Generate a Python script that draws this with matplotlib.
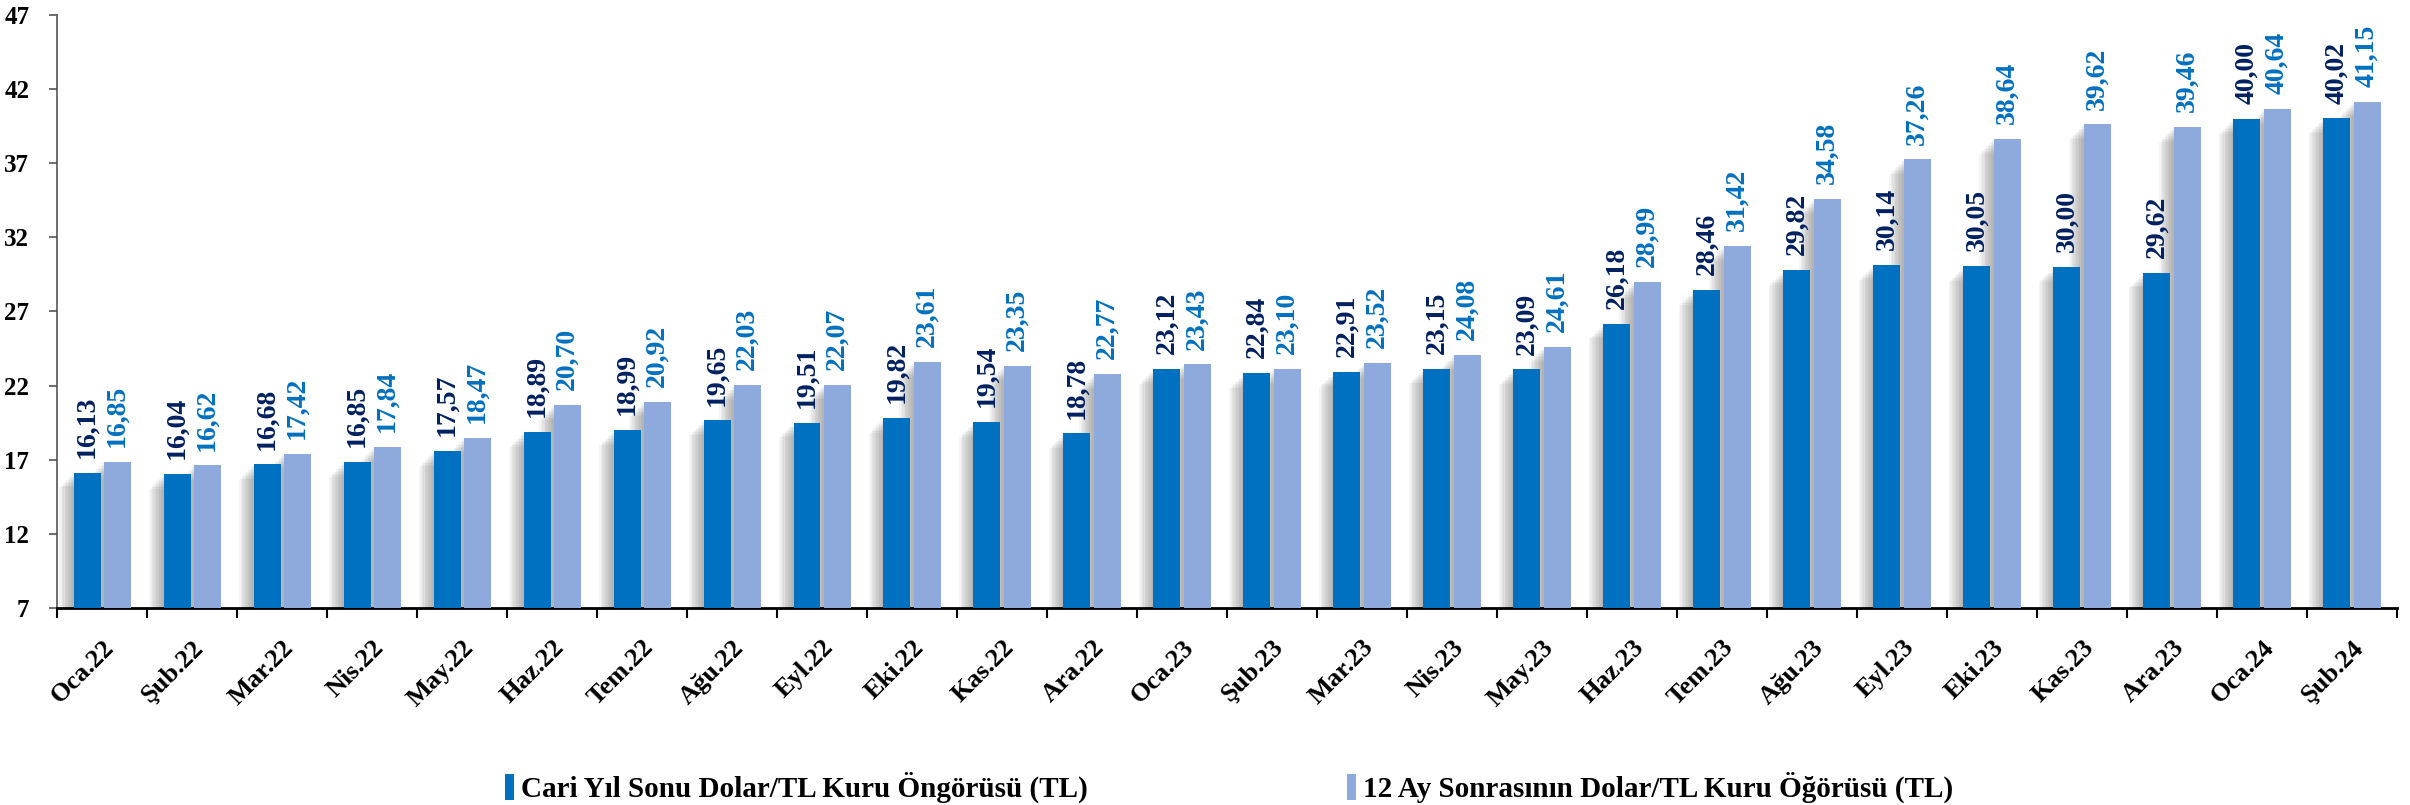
import numpy as np
import matplotlib
matplotlib.use('Agg')
import matplotlib.pyplot as plt

plt.rcParams['font.family'] = ['Liberation Serif', 'DejaVu Serif']
plt.rcParams['font.weight'] = 'bold'

months = ['Oca.22', 'Şub.22', 'Mar.22', 'Nis.22', 'May.22', 'Haz.22', 'Tem.22', 'Ağu.22',
          'Eyl.22', 'Eki.22', 'Kas.22', 'Ara.22', 'Oca.23', 'Şub.23', 'Mar.23', 'Nis.23',
          'May.23', 'Haz.23', 'Tem.23', 'Ağu.23', 'Eyl.23', 'Eki.23', 'Kas.23', 'Ara.23',
          'Oca.24', 'Şub.24']
cari = [16.13, 16.04, 16.68, 16.85, 17.57, 18.89, 18.99, 19.65, 19.51, 19.82, 19.54, 18.78,
        23.12, 22.84, 22.91, 23.15, 23.09, 26.18, 28.46, 29.82, 30.14, 30.05, 30.00, 29.62,
        40.00, 40.02]
ay12 = [16.85, 16.62, 17.42, 17.84, 18.47, 20.70, 20.92, 22.03, 22.07, 23.61, 23.35, 22.77,
        23.43, 23.10, 23.52, 24.08, 24.61, 28.99, 31.42, 34.58, 37.26, 38.64, 39.62, 39.46,
        40.64, 41.15]
series_names = ['Cari Yıl Sonu Dolar/TL Kuru Öngörüsü (TL)',
                '12 Ay Sonrasının Dolar/TL Kuru Öğörüsü (TL)']

c_dark = '#0070C0'
c_light = '#8EA9DB'
lbl_dark = '#002060'
lbl_light = '#0070C0'
ymin = 7

fig = plt.figure(figsize=(24.1, 8.05), dpi=100)
ax = fig.add_axes([0.0237, 0.2447, 0.9709, 0.7367])

x = np.arange(len(months))
w = 0.30
gap = 0.035
x1 = x - w / 2 - gap / 2
x2 = x + w / 2 + gap / 2

# soft shadow on the left side of each bar
for xs, vals in ((x1, cari), (x2, ay12)):
    h = np.array(vals) - ymin
    for k in range(1, 11):
        ax.bar(xs - k * 0.016, h - 0.1 * k, w, bottom=ymin, color='#707070',
               alpha=0.065, linewidth=0, zorder=1)

ax.bar(x1, np.array(cari) - ymin, w, bottom=ymin, color=c_dark, zorder=3,
       label=series_names[0])
ax.bar(x2, np.array(ay12) - ymin, w, bottom=ymin, color=c_light, zorder=3,
       label=series_names[1])

for xi, v in zip(x1, cari):
    ax.text(xi, v + 1.0, f'{v:.2f}'.replace('.', ','), rotation=90, ha='center',
            va='bottom', fontsize=20, color=lbl_dark, fontweight='bold')
for xi, v in zip(x2, ay12):
    ax.text(xi, v + 1.0, f'{v:.2f}'.replace('.', ','), rotation=90, ha='center',
            va='bottom', fontsize=20, color=lbl_light, fontweight='bold')

ax.set_xlim(-0.5, len(months) - 0.5)
ax.set_ylim(ymin, 47)
ax.set_yticks(np.arange(7, 48, 5))
ax.set_xticks(np.arange(len(months) + 1) - 0.5)
ax.set_xticklabels([])
ax.set_xticks(x, minor=True)
ax.set_xticklabels(months, minor=True, rotation=45, ha='right', va='top',
                   rotation_mode='anchor', fontsize=19, fontweight='bold')
ax.tick_params(axis='x', which='minor', length=0, pad=20)
ax.tick_params(axis='x', which='major', length=7, width=1.5, direction='out')
ax.tick_params(axis='y', length=6, width=1.2, color='#555555', labelsize=18, pad=14)
for t in ax.get_yticklabels():
    t.set_fontweight('bold')

ax.spines['top'].set_visible(False)
ax.spines['right'].set_visible(False)
ax.spines['left'].set_color('#555555')
ax.spines['left'].set_linewidth(1.2)
ax.spines['bottom'].set_linewidth(2)

fig.legend(loc='center', bbox_to_anchor=(0.510, 0.022), ncol=2, frameon=False,
           fontsize=21, handlelength=0.3, handleheight=1.0, handletextpad=0.25,
           columnspacing=8.9, borderpad=0)

fig.savefig('out.png', dpi=100)
